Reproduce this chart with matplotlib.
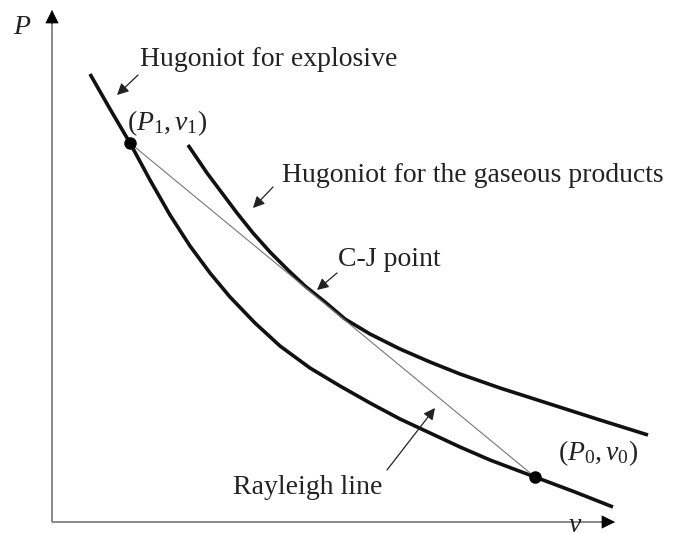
import matplotlib
matplotlib.use("Agg")
import matplotlib.pyplot as plt

plt.rcParams["font.family"] = ["Liberation Serif", "DejaVu Serif"]
plt.rcParams["mathtext.fontset"] = "custom"
plt.rcParams["mathtext.rm"] = "Liberation Serif"
plt.rcParams["mathtext.it"] = "Liberation Serif:italic"

# Hugoniot of the unreacted explosive (specific volume v, pressure P)
explosive_v = [38, 58, 78, 98, 118, 138, 158, 178, 203, 228, 258, 288, 318, 348, 378, 408, 438, 483, 523, 561]
explosive_P = [448, 413, 379, 342, 307, 276, 249, 225, 199, 176, 154, 136, 119, 103, 89, 75, 62, 45, 30, 15]

# Hugoniot of the gaseous detonation products
products_v = [136, 155, 170, 185, 201, 218, 236, 253, 273, 293, 318, 348, 378, 408, 448, 498, 548, 596]
products_P = [377, 349, 329, 309, 289, 270, 252, 236, 220, 203, 188, 173, 160, 148, 134, 118, 102, 87]

# Rayleigh line joining the shocked state (P1, v1) and the initial state (P0, v0)
rayleigh_v = [78, 483]
rayleigh_P = [379, 45]

fig = plt.figure(figsize=(6.73, 5.33), dpi=100)
ax = fig.add_axes([0, 0, 1, 1])
ax.set_xlim(-52, 621)
ax.set_ylim(-11, 522)
ax.axis("off")

# coordinate axes with solid arrowheads
axis_col = "#808080"
ax.plot([0, 0], [0, 500], color=axis_col, lw=1.3, solid_capstyle="butt")
ax.plot([0, 551], [0, 0], color=axis_col, lw=1.3, solid_capstyle="butt")
ax.annotate("", xy=(0, 512), xytext=(0, 498),
            arrowprops=dict(arrowstyle="-|>", color="black", lw=0.5, mutation_scale=22, shrinkA=0, shrinkB=0))
ax.annotate("", xy=(563, 0), xytext=(549, 0),
            arrowprops=dict(arrowstyle="-|>", color="black", lw=0.5, mutation_scale=22, shrinkA=0, shrinkB=0))
ax.text(-30, 495, "P", fontsize=20, style="italic", ha="center", va="center", color="#222")
ax.text(523, -3, "v", fontsize=20, style="italic", ha="center", va="center", color="#222")

# curves
ax.plot(explosive_v, explosive_P, color="#111", lw=2.6, solid_capstyle="butt", solid_joinstyle="round")
ax.plot(products_v, products_P, color="#111", lw=2.6, solid_capstyle="butt", solid_joinstyle="round")
ax.plot(rayleigh_v, rayleigh_P, color="#777", lw=0.8)
ax.plot(rayleigh_v, rayleigh_P, "o", color="black", ms=8, ls="none")

# labels and pointer arrows
txt = dict(fontsize=20, color="#222", va="center", ha="left")
arr = dict(arrowstyle="-|>", color="#222", lw=0.9, mutation_scale=17, shrinkA=0, shrinkB=0)

ax.text(88, 462, "Hugoniot for explosive", **txt)
ax.annotate("", xy=(65, 427), xytext=(86, 447), arrowprops=arr)

ax.text(75, 399, r"$(P_1, v_1)$", **txt)

ax.text(230, 346, "Hugoniot for the gaseous products", **txt)
ax.annotate("", xy=(201, 314), xytext=(221, 335), arrowprops=arr)

ax.text(286, 262, "C-J point", **txt)
ax.annotate("", xy=(265, 232), xytext=(285, 249), arrowprops=arr)

ax.text(181, 34, "Rayleigh line", **txt)
ax.annotate("", xy=(383, 114), xytext=(335, 52), arrowprops=arr)

ax.text(506, 69, r"$(P_0, v_0)$", **txt)

fig.savefig("out.png", dpi=100)
